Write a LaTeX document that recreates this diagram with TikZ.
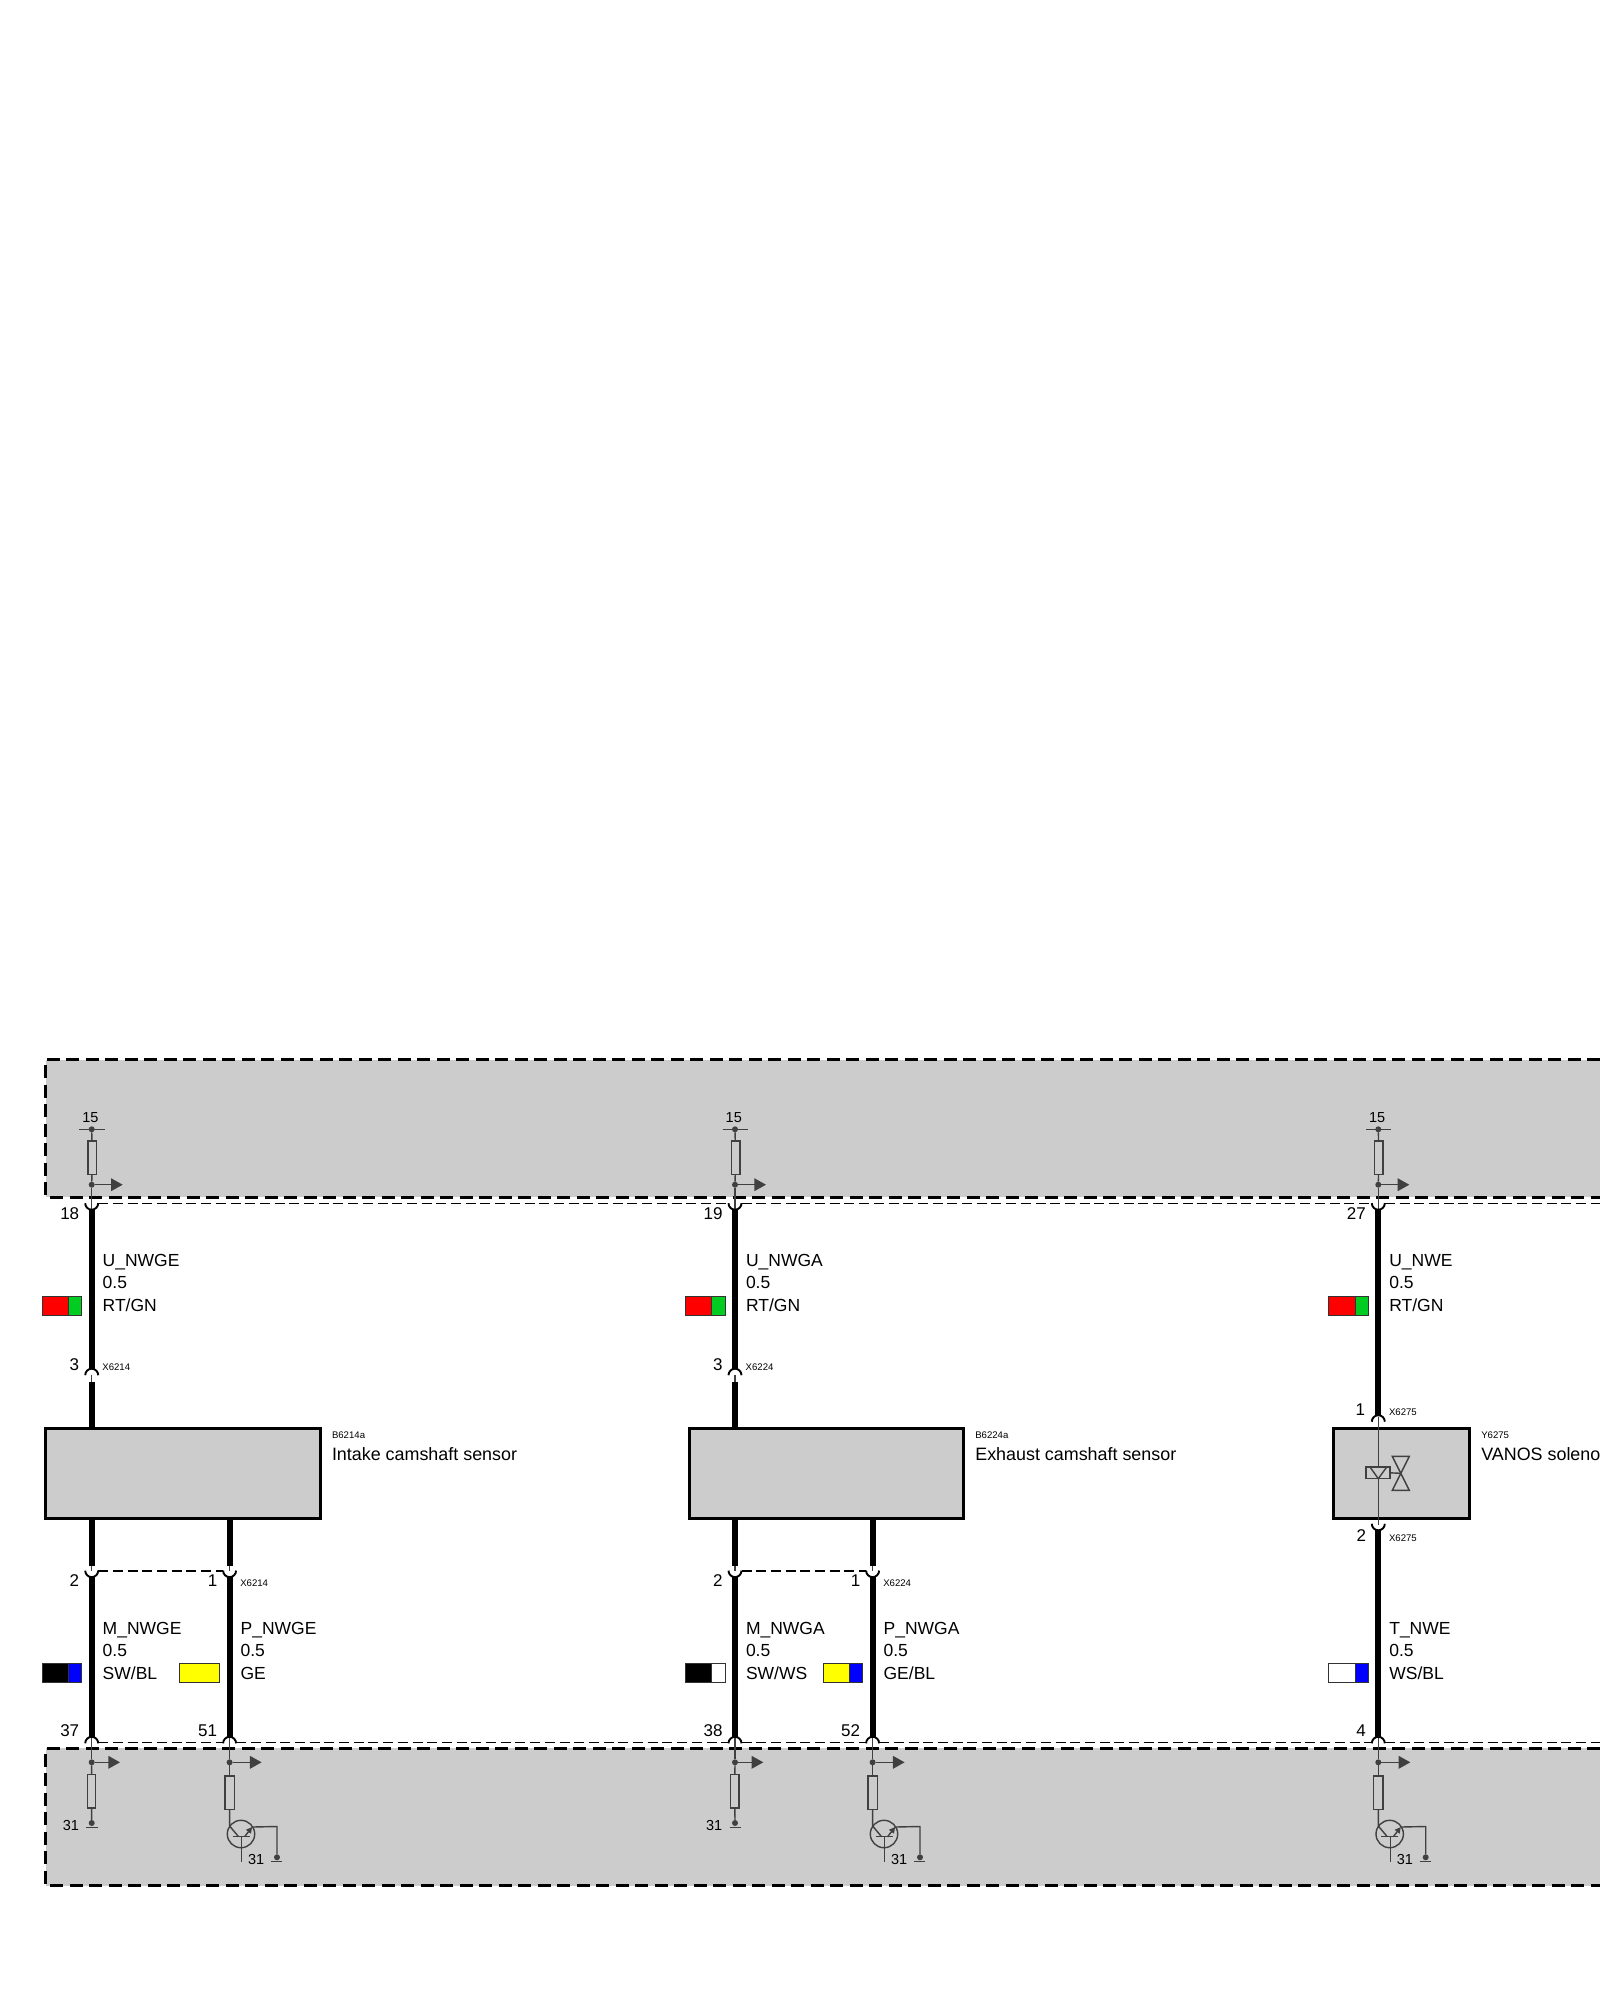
\documentclass[tikz,border=0pt]{standalone}
\usepackage{fontspec}
\setmainfont{Liberation Sans}
\usetikzlibrary{arrows.meta}
\definecolor{panel}{HTML}{CCCCCC}
\definecolor{symb}{HTML}{404040}
\definecolor{wred}{HTML}{FF0000}
\definecolor{wgreen}{HTML}{00CC22}
\definecolor{wblue}{HTML}{0000FF}
\definecolor{wyellow}{HTML}{FFFF00}
\tikzset{
  thickwire/.style={line width=6pt,black},
  symline/.style={line width=1.4pt,symb},
  arc line/.style={line width=1.9pt,black},
  paneldash/.style={line width=3pt,black,dash pattern=on 13pt off 6.5pt},
  thindash/.style={line width=1.4pt,black,dash pattern=on 10pt off 4.7pt},
  lab/.style={anchor=base west,inner sep=0pt,outer sep=0pt,font=\fontsize{17.5}{20}\selectfont},
  pinlab/.style={anchor=base east,inner sep=0pt,outer sep=0pt,font=\fontsize{17}{20}\selectfont},
  tinylab/.style={anchor=base west,inner sep=0pt,outer sep=0pt,font=\fontsize{9.6}{11}\selectfont},
  smallnum/.style={inner sep=0pt,outer sep=0pt,font=\fontsize{14.5}{16}\selectfont},
  sdot/.style={circle,fill=symb,inner sep=0pt,outer sep=0pt,minimum size=6pt},
  resist/.style={rectangle,draw=symb,line width=1.4pt,inner sep=0pt,outer sep=0pt,minimum width=8.4pt,minimum height=33.5pt},
  module/.style={rectangle,draw=black,fill=panel,line width=3pt,inner sep=0pt,outer sep=0pt},
  swatchbox/.style={rectangle,draw=black!80,line width=1pt,inner sep=0pt,outer sep=0pt,minimum height=19pt},
  cupsym/.pic={\draw[arc line] (-6.5,0) arc[start angle=180,end angle=360,radius=6.5pt];},
  archsym/.pic={\draw[arc line] (-6.5,0) arc[start angle=180,end angle=0,radius=6.5pt];},
  flow/.style={symline,-{Triangle[length=11.7pt,width=12.7pt]}},
}
% three-line wire label and colour swatch (local x: wire = 0)
\newcommand\WireText[6]{% prefix, line1, line2 baseline, line3, y1, y3
  \node[lab] (#1n) at (11,#5) {#2};
  \node[lab] (#1s) at (11,#3) {0.5};
  \node[lab] (#1c) at (11,#6) {#4};
}
\newcommand\SwatchTwo[3]{% y centre, colours
  \node[swatchbox,fill=#2,minimum width=26.4pt] (swl) at (-36.4,#1) {};
  \node[swatchbox,fill=#3,minimum width=13.5pt] (swr) at (-16.5,#1) {};
}
\newcommand\SwatchOne[2]{%
  \node[swatchbox,fill=#2,minimum width=39.8pt] (swl) at (-30,#1) {};
}
% ECU supply branch above the top wire
\newcommand\TopStage[3]{% pin, wire name, arch y of the lower end
  \coordinate (tl) at (-6.5,1203.7);
  \coordinate (tr) at (6.5,1203.7);
  \coordinate (barl) at (-12.4,1129.3);
  \coordinate (barr) at (13,1129.3);
  \coordinate (stem) at (0,1209);
  \coordinate (tip) at (31,1184.7);
  \node[sdot] (da) at (0,1129.3) {};
  \node[resist] (ra) at (0.6,1157.6) {};
  \node[sdot] (db) at (0,1184.7) {};
  \node[smallnum,anchor=base] (vb) at (-1.2,1122.7) {15};
  \draw[symline] (barl) -- (barr);
  \draw[symline] (da) -- (ra);
  \draw[symline] (ra) -- (db);
  \draw[symline] (db) -- (stem);
  \draw[flow] (db) -- (tip);
  \pic at (0,1203.2) {cupsym};
  \coordinate (wt) at (0,1209);
  \coordinate (wb) at (0,#3);
  \draw[thickwire] (wt) -- (wb);
  \node[pinlab] (ptop) at (-12.5,1219) {#1};
  \node[lab] (un) at (11,1266) {#2};
  \node[lab] (us) at (11,1288) {0.5};
}
% ECU lower branch common part
\newcommand\BottomStage[3]{% pin, start y of wire, arrow length
  \coordinate (bl) at (-6.5,1742.7);
  \coordinate (br) at (6.5,1742.7);
  \coordinate (wt) at (0,#2);
  \coordinate (wb) at (0,1737);
  \draw[thickwire] (wt) -- (wb);
  \coordinate (stem) at (0,1738);
  \coordinate (tip) at (#3,1762.3);
  \node[sdot] (db) at (0,1762.3) {};
  \draw[symline] (stem) -- (db);
  \draw[flow] (db) -- (tip);
  \pic at (0,1743.3) {archsym};
  \node[pinlab] (pbot) at (-12.5,1736.7) {#1};
}
\newcommand\GroundEnd{%
  \node[resist] (ra) at (-0.3,1791.3) {};
  \node[sdot] (dc) at (0,1823) {};
  \coordinate (gl) at (-5.5,1827.3);
  \coordinate (gr) at (6,1827.3);
  \draw[symline] (db) -- (ra);
  \draw[symline] (ra) -- (dc);
  \draw[symline] (gl) -- (gr);
  \node[smallnum,anchor=base east] (gn) at (-12.7,1830) {31};
}
\newcommand\TransistorEnd{%
  \node[resist,minimum width=9.2pt] (ra) at (0,1792.7) {};
  \node[circle,draw=symb,line width=1.4pt,minimum size=27.4pt,inner sep=0pt,outer sep=0pt] (q) at (11.4,1834) {};
  \coordinate (cbend) at (0,1826);
  \coordinate (ca) at (9,1836.7);
  \coordinate (bara) at (3,1836.7);
  \coordinate (barb) at (20,1836.7);
  \coordinate (ba) at (12,1836.7);
  \coordinate (bb) at (12,1861.7);
  \coordinate (ea) at (15,1836.7);
  \coordinate (eb) at (22.5,1827);
  \coordinate (ec) at (47.4,1826.5);
  \node[sdot] (dc) at (47.4,1857.3) {};
  \coordinate (gl) at (41.4,1861.3);
  \coordinate (gr) at (52.4,1861.3);
  \draw[symline] (db) -- (ra);
  \draw[symline] (ra) -- (cbend) -- (ca);
  \draw[symline] (bara) -- (barb);
  \draw[symline] (ba) -- (bb);
  \draw[symline,-{Triangle[length=6pt,width=6pt]}] (ea) -- (eb);
  \draw[symline] (eb) -- (ec) -- (dc);
  \draw[symline] (gl) -- (gr);
  \node[smallnum,anchor=base west] (gn) at (18.5,1864.5) {31};
}
% sensor column: local coordinates, wire at x=0
\newcommand\SensorColumn[7]{% 1 pin top,2 U name,3 X label,4 B label,5 title,6 lower-left pin,7 lower-right pin
  \TopStage{#1}{U\_#2}{1369}
  \node[lab] (uc) at (11,1311) {RT/GN};
  \SwatchTwo{1305.5}{wred}{wgreen}
  \pic at (0,1375.2) {archsym};
  \coordinate (stub) at (0,1375);
  \coordinate (wlow) at (0,1381.7);
  \node[module,minimum width=274.6pt,minimum height=89.7pt] (box) at (91.3,1473.7) {};
  \draw[symline] (stub) -- (wlow);
  \draw[thickwire] (wlow) -- (wlow |- box.north);
  \node[pinlab] (pc) at (-12.5,1370) {3};
  \node[tinylab] (xa) at (10.7,1370) {#3};
  \node[tinylab] (ba) at (240.3,1438) {#4};
  \node[lab,font=\fontsize{17.9}{20}\selectfont] (ti) at (240.3,1460) {#5};
}
\newcommand\LowerStub{%
  \coordinate (s0) at (0,1519);
  \coordinate (s1) at (0,1566);
  \coordinate (s2) at (0,1571);
  \coordinate (cl) at (-6.5,1571);
  \coordinate (cr) at (6.5,1571);
  \draw[thickwire] (s0) -- (s1);
  \draw[symline] (s1) -- (s2);
  \pic at (0,1570.6) {cupsym};
}
\begin{document}
\begin{tikzpicture}[x=1pt,y=-1pt]
\useasboundingbox (0,0) rectangle (1600,2000);
% ECU panels
\fill[panel] (45.5,1059.5) rectangle (1600,1197);
\fill[panel] (45.5,1748.3) rectangle (1600,1885.7);
\draw[paneldash] (1600,1059.5) -- (45.5,1059.5) -- (45.5,1197) -- (1600,1197);
\draw[paneldash] (1600,1748.3) -- (45.5,1748.3) -- (45.5,1885.7) -- (1600,1885.7);

% ===== column A =====
\begin{scope}[xshift=91.7pt,name prefix=a-]
  \SensorColumn{18}{NWGE}{X6214}{B6214a}{Intake camshaft sensor}{2}{1}
  \LowerStub
  \node[pinlab] (pd) at (-12.5,1586.7) {2};
  \WireText{m}{M\_NWGE}{1656}{SW/BL}{1634}{1679}
  \SwatchTwo{1673.3}{black}{wblue}
  \begin{scope}[name prefix=a-m-]
    \BottomStage{37}{1577}{28.3}
    \GroundEnd
  \end{scope}
\end{scope}
\begin{scope}[xshift=229.6pt,name prefix=a-p-]
  \LowerStub
  \node[pinlab] (pd) at (-12.3,1586.7) {1};
  \node[tinylab] (xb) at (10.7,1586.7) {X6214};
  \WireText{m}{P\_NWGE}{1656}{GE}{1634}{1679}
  \SwatchOne{1673.3}{wyellow}
  \BottomStage{51}{1577}{32}
  \TransistorEnd
\end{scope}

% ===== column B =====
\begin{scope}[xshift=735pt,name prefix=b-]
  \SensorColumn{19}{NWGA}{X6224}{B6224a}{Exhaust camshaft sensor}{2}{1}
  \LowerStub
  \node[pinlab] (pd) at (-12.5,1586.7) {2};
  \WireText{m}{M\_NWGA}{1656}{SW/WS}{1634}{1679}
  \SwatchTwo{1673.3}{black}{white}
  \begin{scope}[name prefix=b-m-]
    \BottomStage{38}{1577}{28.3}
    \GroundEnd
  \end{scope}
\end{scope}
\begin{scope}[xshift=872.6pt,name prefix=b-p-]
  \LowerStub
  \node[pinlab] (pd) at (-12.3,1586.7) {1};
  \node[tinylab] (xb) at (10.7,1586.7) {X6224};
  \WireText{m}{P\_NWGA}{1656}{GE/BL}{1634}{1679}
  \SwatchTwo{1673.3}{wyellow}{wblue}
  \BottomStage{52}{1577}{32}
  \TransistorEnd
\end{scope}

% ===== column C =====
\begin{scope}[xshift=1378.3pt,name prefix=c-]
  \TopStage{27}{U\_NWE}{1415.5}
  \node[lab] (uc) at (11,1311) {RT/GN};
  \SwatchTwo{1305.5}{wred}{wgreen}
  \pic at (0,1421.7) {archsym};
  \node[module,minimum width=135.7pt,minimum height=89.7pt] (box) at (23.3,1473.7) {};
  \coordinate (va) at (0,1416.5);
  \coordinate (vb) at (0,1525);
  \node[rectangle,draw=symb,line width=1.4pt,inner sep=0pt,outer sep=0pt,minimum width=24pt,minimum height=11.7pt] (coil) at (-0.3,1472.8) {};
  \coordinate (ta) at (-8.3,1467);
  \coordinate (tb) at (8.4,1467);
  \coordinate (tc) at (0,1478.7);
  \coordinate (vc) at (22.5,1473.3);
  \coordinate (v1) at (14,1456.3);
  \coordinate (v2) at (31,1456.3);
  \coordinate (v3) at (14,1490.3);
  \coordinate (v4) at (31,1490.3);
  \draw[symline] (va) -- (coil.north -| va);
  \draw[symline] (coil.south -| va) -- (vb);
  \draw[symline] (ta) -- (tc) -- (tb);
  \draw[symline] (coil.east) -- (vc);
  \draw[symline] (v1) -- (v2) -- (v3) -- (v4) -- cycle;
  \pic at (0,1523.8) {cupsym};
  \node[pinlab] (pc) at (-13.3,1415) {1};
  \node[tinylab] (xa) at (10.7,1415) {X6275};
  \node[pinlab] (pd) at (-12.3,1541) {2};
  \node[tinylab] (xb) at (10.7,1541) {X6275};
  \node[tinylab] (ya) at (103,1438) {Y6275};
  \node[lab,font=\fontsize{17.9}{20}\selectfont] (ti) at (103,1460) {VANOS soleno};
  \WireText{m}{T\_NWE}{1656}{WS/BL}{1634}{1679}
  \SwatchTwo{1673.3}{white}{wblue}
  \BottomStage{4}{1530}{32}
  \TransistorEnd
\end{scope}

% ===== dashed signal lines between connectors =====
\coordinate (topend) at (1600,1203.7);
\coordinate (botend) at (1600,1742.7);
\draw[thindash] (a-tr) -- (b-tl);
\draw[thindash] (b-tr) -- (c-tl);
\draw[thindash] (c-tr) -- (topend);
\draw[thindash] (a-m-br) -- (a-p-bl);
\draw[thindash] (a-p-br) -- (b-m-bl);
\draw[thindash] (b-m-br) -- (b-p-bl);
\draw[thindash] (b-p-br) -- (c-bl);
\draw[thindash] (c-br) -- (botend);
\draw[thindash] (a-cr) -- (a-p-cl);
\draw[thindash] (b-cr) -- (b-p-cl);
\end{tikzpicture}
\end{document}
